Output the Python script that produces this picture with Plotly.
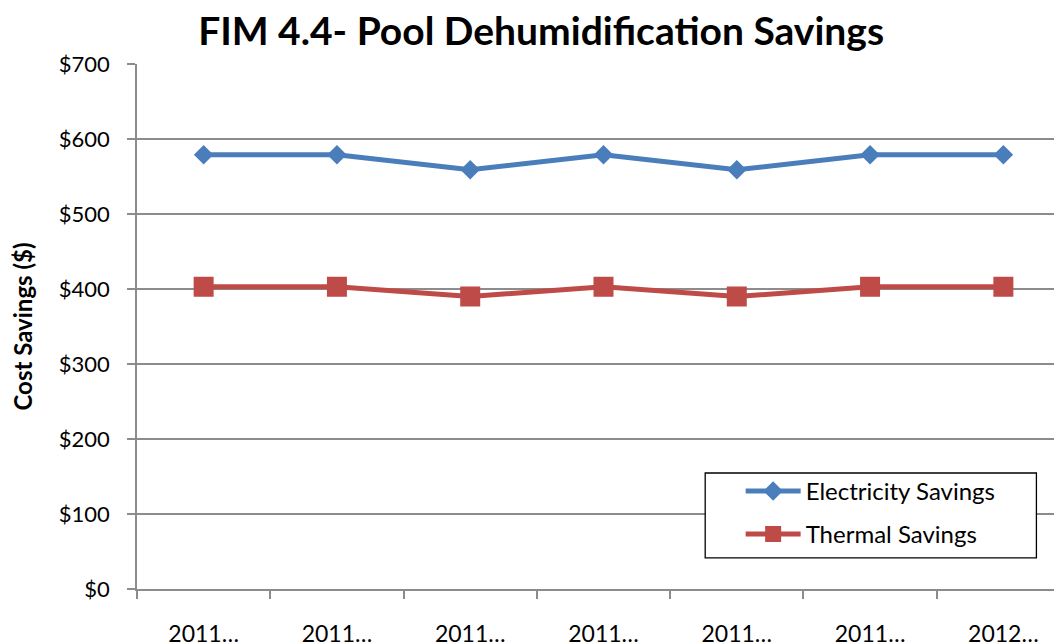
import plotly.graph_objects as go

x_idx = [0, 1, 2, 3, 4, 5, 6]
tick_labels = ["2011…", "2011…", "2011…", "2011…", "2011…", "2011…", "2012…"]
electricity = [579, 579, 559, 579, 559, 579, 579]
thermal = [403, 403, 390, 403, 390, 403, 403]
y_ticks = [0, 100, 200, 300, 400, 500, 600, 700]
y_labels = ["$0", "$100", "$200", "$300", "$400", "$500", "$600", "$700"]
boundaries = [i - 0.5 for i in range(8)]

FONT = "Lato"
GRID = "#8c8c8c"

fig = go.Figure()
fig.add_trace(go.Scatter(
    x=x_idx, y=electricity, name="Electricity Savings", mode="lines+markers",
    line=dict(color="#4A7EBB", width=5),
    marker=dict(symbol="diamond", size=15, color="#4A7EBB"),
    legendgroup="a"))
fig.add_trace(go.Scatter(
    x=x_idx, y=thermal, name="Thermal Savings", mode="lines+markers",
    line=dict(color="#BE4B48", width=5),
    marker=dict(symbol="square", size=20, color="#BE4B48"),
    legendgroup="b"))

fig.update_layout(
    width=1062, height=644,
    margin=dict(l=129, r=0, t=56, b=63),
    paper_bgcolor="white", plot_bgcolor="white",
    font=dict(family=FONT, color="black"),
    title=dict(text="<b>FIM 4.4- Pool Dehumidification Savings</b>",
               x=0.502, xanchor="center", y=0.964, yanchor="middle",
               font=dict(family=FONT, size=39, color="black")),
    showlegend=True,
    legend=dict(x=0.647, y=0.229, xanchor="left", yanchor="top",
                bgcolor="rgba(0,0,0,0)", borderwidth=0,
                font=dict(family=FONT, size=24, color="black"),
                itemwidth=55, tracegroupgap=9, traceorder="grouped"),
    shapes=[dict(type="rect", xref="paper", yref="paper",
                 x0=0.609, x1=0.964, y0=0.0594, y1=0.221,
                 line=dict(color="black", width=1.3), fillcolor="white",
                 layer="above")],
    xaxis=dict(range=[-0.5, 6.5], tickmode="array", tickvals=x_idx,
               ticktext=tick_labels, ticks="", showgrid=False, zeroline=False,
               showline=True, linecolor=GRID, linewidth=1.5,
               tickfont=dict(family=FONT, size=23, color="black"),
               ticklabelstandoff=24,
               minor=dict(tickmode="array", tickvals=boundaries, ticks="outside",
                          ticklen=8, tickwidth=1.5, tickcolor=GRID, showgrid=False)),
    xaxis2=dict(overlaying="x", matches="x", anchor="y", tickmode="array",
                tickvals=boundaries, ticks="inside", ticklen=8, tickwidth=1.5,
                tickcolor=GRID, showticklabels=False, showgrid=False,
                zeroline=False, showline=False, side="bottom"),
    yaxis=dict(range=[0, 700], tickmode="array", tickvals=y_ticks, ticktext=y_labels,
               showgrid=True, gridcolor=GRID, gridwidth=1.5, zeroline=False,
               showline=True, linecolor=GRID, linewidth=1.5,
               ticks="outside", ticklen=8, tickwidth=1.5, tickcolor=GRID,
               tickfont=dict(family=FONT, size=22, color="black"),
               ticklabelstandoff=13,
               title=dict(text="<b>Cost Savings ($)</b>", standoff=23,
                          font=dict(family=FONT, size=24, color="black"))),
)

fig.write_html("out.html")
